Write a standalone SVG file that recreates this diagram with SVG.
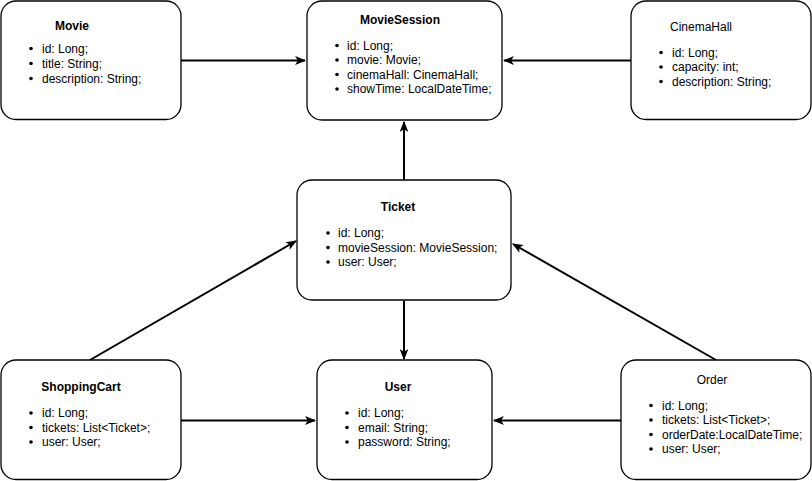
<svg xmlns="http://www.w3.org/2000/svg" width="812" height="481" viewBox="0 0 812 481">
<style>
.box{fill:#fff;stroke:#000;stroke-width:1.3}
.t{font-family:"Liberation Sans",Arial,sans-serif;font-size:12px;font-weight:bold;fill:#000;text-anchor:middle}
.tn{font-weight:normal}
.a{font-family:"Liberation Sans",Arial,sans-serif;font-size:12px;fill:#000}
.e{stroke:#000;stroke-width:2;fill:none;marker-end:url(#arr)}
</style>
<defs>
<marker id="arr" viewBox="0 0 10 8" refX="9" refY="4" markerWidth="5.5" markerHeight="4.4" orient="auto" markerUnits="strokeWidth">
<path d="M0,0 L10,4 L0,8 L2.5,4 z" fill="#000"/>
</marker>
</defs>
<g id="connectors">
<line class="e" x1="181" y1="60.5" x2="305" y2="60.5"/>
<line class="e" x1="631" y1="60.5" x2="504" y2="60.5"/>
<line class="e" x1="404" y1="180" x2="404" y2="122"/>
<line class="e" x1="404" y1="301" x2="404" y2="359"/>
<line class="e" x1="90" y1="360" x2="296" y2="241"/>
<line class="e" x1="181" y1="420.5" x2="315" y2="420.5"/>
<line class="e" x1="716" y1="360" x2="513" y2="244"/>
<line class="e" x1="621" y1="420.5" x2="494" y2="420.5"/>
</g>
<g id="Movie">
<rect class="box" x="1" y="1" width="180" height="118.5" rx="15"/>
<text class="t" x="72" y="30">Movie</text>
<g class="a">
<circle cx="31" cy="48.5" r="1.8"/><text x="42" y="52.5">id: Long;</text>
<circle cx="31" cy="63.5" r="1.8"/><text x="42" y="67.5">title: String;</text>
<circle cx="31" cy="78.5" r="1.8"/><text x="42" y="82.5">description: String;</text>
</g>
</g>
<g id="MovieSession">
<rect class="box" x="307" y="1" width="195" height="119" rx="15"/>
<text class="t" x="400" y="24">MovieSession</text>
<g class="a">
<circle cx="337" cy="45.5" r="1.8"/><text x="347" y="49.5">id: Long;</text>
<circle cx="337" cy="60" r="1.8"/><text x="347" y="64">movie: Movie;</text>
<circle cx="337" cy="74.5" r="1.8"/><text x="347" y="78.5">cinemaHall: CinemaHall;</text>
<circle cx="337" cy="89" r="1.8"/><text x="347" y="93">showTime: LocalDateTime;</text>
</g>
</g>
<g id="CinemaHall">
<rect class="box" x="631" y="1" width="180" height="118.5" rx="15"/>
<text class="t tn" x="701" y="31">CinemaHall</text>
<g class="a">
<circle cx="661" cy="52.5" r="1.8"/><text x="672" y="56.5">id: Long;</text>
<circle cx="661" cy="67" r="1.8"/><text x="672" y="71">capacity: int;</text>
<circle cx="661" cy="81.5" r="1.8"/><text x="672" y="85.5">description: String;</text>
</g>
</g>
<g id="Ticket">
<rect class="box" x="297" y="180" width="214" height="120" rx="15"/>
<text class="t" x="398" y="211">Ticket</text>
<g class="a">
<circle cx="328" cy="233" r="1.8"/><text x="338" y="237">id: Long;</text>
<circle cx="328" cy="247.5" r="1.8"/><text x="338" y="251.5">movieSession: MovieSession;</text>
<circle cx="328" cy="262" r="1.8"/><text x="338" y="266">user: User;</text>
</g>
</g>
<g id="ShoppingCart">
<rect class="box" x="1" y="360" width="180" height="119.5" rx="15"/>
<text class="t" x="81" y="391">ShoppingCart</text>
<g class="a">
<circle cx="31" cy="413" r="1.8"/><text x="42" y="417">id: Long;</text>
<circle cx="31" cy="427.5" r="1.8"/><text x="42" y="431.5">tickets: List&lt;Ticket&gt;;</text>
<circle cx="31" cy="442" r="1.8"/><text x="42" y="446">user: User;</text>
</g>
</g>
<g id="User">
<rect class="box" x="317" y="360" width="175" height="119.5" rx="15"/>
<text class="t" x="398" y="391">User</text>
<g class="a">
<circle cx="347" cy="413" r="1.8"/><text x="358" y="417">id: Long;</text>
<circle cx="347" cy="427.5" r="1.8"/><text x="358" y="431.5">email: String;</text>
<circle cx="347" cy="442" r="1.8"/><text x="358" y="446">password: String;</text>
</g>
</g>
<g id="Order">
<rect class="box" x="621" y="360" width="190" height="119.5" rx="15"/>
<text class="t tn" x="712" y="384">Order</text>
<g class="a">
<circle cx="651" cy="405.5" r="1.8"/><text x="662" y="409.5">id: Long;</text>
<circle cx="651" cy="420" r="1.8"/><text x="662" y="424">tickets: List&lt;Ticket&gt;;</text>
<circle cx="651" cy="434.5" r="1.8"/><text x="662" y="438.5">orderDate:LocalDateTime;</text>
<circle cx="651" cy="449" r="1.8"/><text x="662" y="453">user: User;</text>
</g>
</g>
</svg>
